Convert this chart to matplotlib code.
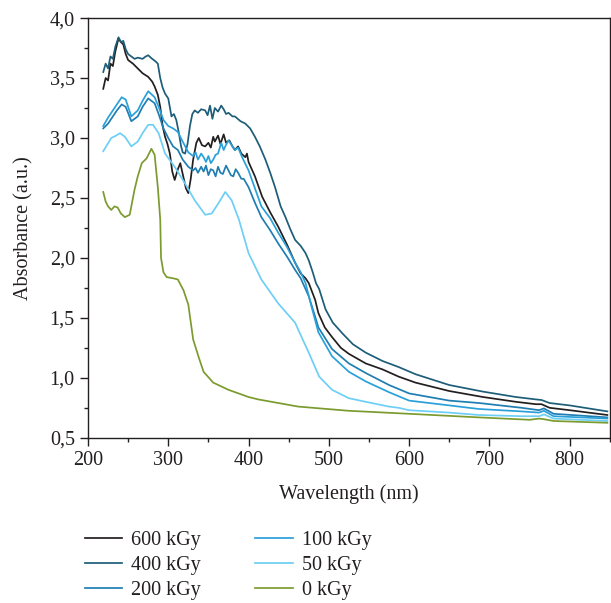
import matplotlib.pyplot as plt
from matplotlib.ticker import MultipleLocator, FuncFormatter

plt.rcParams['font.family'] = ['Liberation Serif', 'DejaVu Serif']

# 600 kGy
wl_600 = [219, 222, 225, 228, 231, 234, 238, 241, 244, 247, 250, 256, 262, 268, 275, 280, 283, 287,
          290, 293, 296, 299, 302, 305, 308, 312, 315, 318, 322, 325, 328, 331, 335, 338, 342, 346,
          350, 353, 356, 358, 362, 365, 369, 372, 376, 380, 383, 387, 391, 396, 398, 400, 408, 417,
          427, 437, 448, 458, 465, 471, 475, 483, 487, 495, 504, 515, 525, 546, 567, 587, 608, 650,
          692, 733, 758, 765, 775, 800, 847]
ab_600 = [3.41, 3.50, 3.48, 3.62, 3.60, 3.72, 3.83, 3.80, 3.78, 3.70, 3.65, 3.62, 3.58, 3.54, 3.51,
          3.47, 3.43, 3.36, 3.26, 3.10, 3.01, 2.95, 2.87, 2.72, 2.65, 2.74, 2.79, 2.70, 2.58, 2.54,
          2.66, 2.82, 2.96, 3.00, 2.94, 2.93, 2.96, 2.92, 3.01, 2.97, 3.02, 2.95, 3.03, 2.96, 2.98,
          2.93, 2.90, 2.93, 2.87, 2.84, 2.87, 2.80, 2.68, 2.51, 2.38, 2.26, 2.11, 1.96, 1.87, 1.83,
          1.79, 1.65, 1.54, 1.42, 1.34, 1.25, 1.20, 1.12, 1.07, 1.01, 0.96, 0.89, 0.84, 0.80, 0.78,
          0.78, 0.75, 0.73, 0.69]

# 400 kGy
wl_400 = [219, 222, 225, 228, 231, 234, 238, 241, 244, 247, 250, 254, 258, 262, 268, 272, 275, 280,
          284, 287, 290, 293, 296, 300, 304, 307, 310, 313, 316, 318, 321, 324, 327, 330, 333, 337,
          341, 346, 349, 352, 355, 358, 362, 366, 369, 372, 375, 380, 383, 390, 396, 402, 408, 414,
          421, 427, 433, 440, 446, 452, 458, 465, 471, 475, 480, 484, 488, 496, 505, 517, 530, 546,
          567, 587, 608, 650, 692, 733, 758, 765, 775, 800, 847]
ab_400 = [3.55, 3.62, 3.58, 3.68, 3.66, 3.76, 3.84, 3.80, 3.81, 3.74, 3.70, 3.68, 3.66, 3.67, 3.66,
          3.68, 3.69, 3.66, 3.64, 3.62, 3.50, 3.42, 3.37, 3.33, 3.18, 3.20, 3.15, 3.05, 2.93, 2.88,
          2.87, 2.95, 3.10, 3.20, 3.23, 3.21, 3.24, 3.23, 3.19, 3.27, 3.16, 3.25, 3.22, 3.27, 3.24,
          3.20, 3.21, 3.18, 3.18, 3.14, 3.12, 3.08, 3.01, 2.93, 2.82, 2.71, 2.59, 2.43, 2.34, 2.24,
          2.15, 2.10, 2.04, 1.98, 1.88, 1.79, 1.74, 1.57, 1.46, 1.37, 1.28, 1.21, 1.14, 1.09, 1.03,
          0.94, 0.885, 0.84, 0.82, 0.815, 0.79, 0.77, 0.72]

# 200 kGy
wl_200 = [219, 225, 231, 236, 242, 247, 254, 262, 268, 275, 283, 288, 294, 300, 306, 312, 318, 325,
          331, 334, 337, 341, 344, 347, 350, 353, 356, 359, 362, 365, 368, 372, 375, 378, 381, 384,
          387, 391, 394, 400, 408, 416, 427, 437, 448, 458, 465, 475, 483, 487, 504, 525, 546, 575,
          600, 650, 687, 740, 762, 768, 780, 847]
ab_200 = [3.08, 3.12, 3.18, 3.23, 3.28, 3.26, 3.14, 3.18, 3.26, 3.33, 3.29, 3.20, 3.08, 3.00, 2.93,
          2.90, 2.82, 2.76, 2.73, 2.75, 2.71, 2.76, 2.72, 2.77, 2.69, 2.74, 2.73, 2.68, 2.76, 2.71,
          2.70, 2.77, 2.73, 2.69, 2.68, 2.74, 2.71, 2.66, 2.66, 2.59, 2.46, 2.34, 2.23, 2.12, 2.01,
          1.90, 1.83, 1.68, 1.51, 1.42, 1.24, 1.12, 1.04, 0.94, 0.87, 0.81, 0.79, 0.75, 0.73, 0.745,
          0.70, 0.67]

# 100 kGy
wl_100 = [219, 225, 231, 236, 242, 247, 254, 262, 268, 275, 283, 288, 294, 300, 306, 312, 318, 325,
          331, 334, 337, 341, 344, 347, 350, 353, 356, 359, 362, 366, 369, 371, 375, 380, 383, 387,
          392, 400, 408, 416, 427, 437, 448, 458, 465, 471, 479, 487, 504, 525, 546, 575, 600, 650,
          687, 740, 762, 768, 780, 847]
ab_100 = [3.10, 3.17, 3.23, 3.28, 3.34, 3.32, 3.18, 3.23, 3.31, 3.39, 3.34, 3.26, 3.15, 3.10, 3.08,
          3.05, 2.97, 2.88, 2.85, 2.88, 2.82, 2.87, 2.84, 2.80, 2.85, 2.79, 2.82, 2.86, 2.87, 2.96,
          2.90, 2.93, 2.98, 2.93, 2.90, 2.92, 2.84, 2.73, 2.58, 2.43, 2.33, 2.21, 2.09, 1.96, 1.88,
          1.79, 1.58, 1.38, 1.18, 1.05, 0.97, 0.88, 0.81, 0.77, 0.74, 0.72, 0.71, 0.725, 0.68, 0.66]

# 50 kGy
wl_50 = [219, 229, 235, 240, 246, 254, 262, 268, 275, 281, 288, 296, 308, 321, 333, 346, 354, 362,
         371, 379, 388, 400, 416, 437, 458, 462, 475, 488, 504, 525, 546, 575, 587, 600, 650, 687,
         740, 762, 768, 780, 847]
ab_50 = [2.89, 3.00, 3.02, 3.04, 3.01, 2.93, 2.97, 3.04, 3.11, 3.11, 3.04, 2.87, 2.76, 2.62, 2.48,
         2.36, 2.37, 2.45, 2.55, 2.48, 2.32, 2.04, 1.82, 1.62, 1.46, 1.40, 1.21, 1.01, 0.90, 0.83,
         0.80, 0.76, 0.75, 0.73, 0.71, 0.69, 0.68, 0.68, 0.695, 0.66, 0.64]

# 0 kGy
wl_0 = [219, 222, 225, 229, 233, 237, 241, 246, 252, 258, 262, 267, 273, 279, 283, 287, 290, 291,
        294, 298, 306, 312, 319, 325, 331, 338, 344, 356, 375, 400, 412, 462, 525, 600, 687, 750,
        762, 768, 780, 847]
ab_0 = [2.55, 2.47, 2.43, 2.40, 2.43, 2.42, 2.37, 2.34, 2.36, 2.57, 2.68, 2.79, 2.83, 2.91, 2.86,
        2.59, 2.32, 2.00, 1.88, 1.84, 1.83, 1.82, 1.73, 1.61, 1.32, 1.17, 1.05, 0.96, 0.90, 0.84,
        0.82, 0.76, 0.725, 0.70, 0.67, 0.65, 0.66, 0.655, 0.64, 0.625]

series = [
    ('600 kGy', wl_600, ab_600, '#231f20'),
    ('400 kGy', wl_400, ab_400, '#1d5d78'),
    ('200 kGy', wl_200, ab_200, '#1f7db2'),
    ('100 kGy', wl_100, ab_100, '#2aa0db'),
    ('50 kGy', wl_50, ab_50, '#6dcff6'),
    ('0 kGy', wl_0, ab_0, '#7b9b2e'),
]

fig = plt.figure(figsize=(6.11, 6.03), dpi=100)
ax = fig.add_axes([0.144, 0.274, 0.854, 0.696])

for name, x, y, c in series:
    ax.plot(x, y, color=c, lw=1.25, label=name)

ax.set_xlim(200, 850)
ax.set_ylim(0.5, 4.0)
ax.xaxis.set_major_locator(MultipleLocator(100))
ax.xaxis.set_minor_locator(MultipleLocator(50))
ax.yaxis.set_major_locator(MultipleLocator(0.5))
ax.yaxis.set_minor_locator(MultipleLocator(0.25))
ax.yaxis.set_major_formatter(FuncFormatter(lambda v, p: f'{v:.1f}'.replace('.', ',')))
ax.tick_params(which='major', direction='out', length=6, width=1, labelsize=14.5,
               color='#231f20', labelcolor='#231f20')
ax.tick_params(which='minor', direction='out', length=3, width=1, color='#231f20')
for s in ax.spines.values():
    s.set_linewidth(1)
    s.set_color('#231f20')

ax.set_xlabel('Wavelength (nm)', fontsize=14.5, color='#231f20', labelpad=10)
ax.set_ylabel('Absorbance (a.u.)', fontsize=14.5, color='#231f20', labelpad=12)

fig.legend(loc='upper left', bbox_to_anchor=(0.139, 0.12), ncol=2, frameon=False,
           fontsize=14.5, handlelength=1.85, handletextpad=0.45, columnspacing=2.7,
           labelspacing=0.3, borderpad=0, borderaxespad=0, labelcolor='#231f20')

fig.savefig('out.png', dpi=100)
